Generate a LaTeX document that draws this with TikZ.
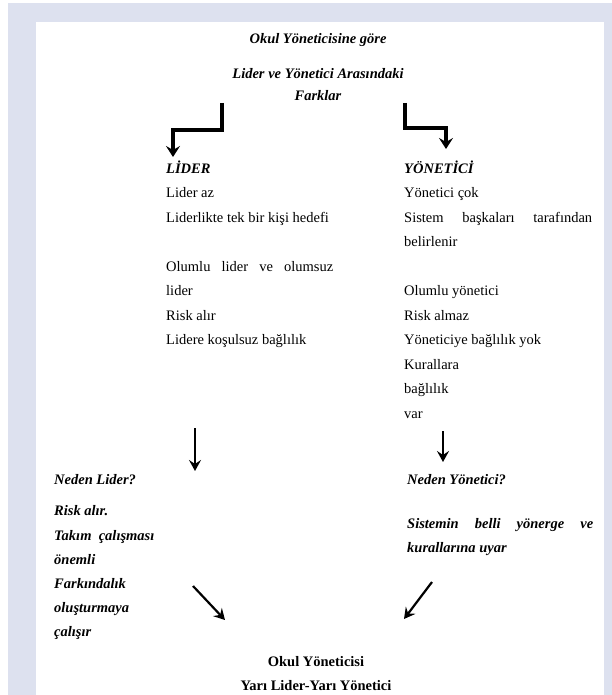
\documentclass[tikz,border=0pt]{standalone}
\usepackage{fontspec}
\setmainfont{Liberation Serif}
\usetikzlibrary{arrows.meta}
\definecolor{framebg}{RGB}{221,225,239}
\newcommand{\docsize}{\fontsize{14.5}{17}\selectfont}
\begin{document}
\begin{tikzpicture}[x=1pt,y=-1pt,
  txt/.style={anchor=base west, inner sep=0pt, font=\docsize},
  bi/.style={anchor=base west, inner sep=0pt, font=\docsize\bfseries\itshape},
  ctr/.style={anchor=base, inner sep=0pt, font=\docsize\bfseries},
  ctrbi/.style={anchor=base, inner sep=0pt, font=\docsize\bfseries\itshape},
  bent/.style={line width=3.2pt, -{Stealth[length=11pt,width=14pt,inset=4pt]}},
  straight/.style={line width=2.2pt, -{Stealth[length=11pt,width=12pt,inset=4pt]}}]
\useasboundingbox (0,0) rectangle (612,695);
% frame and page
\fill[white] (0,0) rectangle (612,695);
\fill[framebg] (8,3) rectangle (612,695);
\fill[white] (36,22) rectangle (604,695);

% heading
\node[ctrbi] (t1) at (318,44) {Okul Yöneticisine göre};
\node[ctrbi] (t2) at (318,79) {Lider ve Yönetici Arasındaki};
\node[ctrbi] (t3) at (318,101) {Farklar};

% leader column
\node[bi]  (lhead) at (166,173) {LİDER};
\node[txt] (l1) at (166,197.5) {Lider az};
\node[txt] (l2) at (166,222) {Liderlikte tek bir kişi hedefi};
\node[txt] (l3) at (166,271) {\makebox[167pt][s]{Olumlu lider ve olumsuz}};
\node[txt] (l4) at (166,295.5) {lider};
\node[txt] (l5) at (166,320) {Risk alır};
\node[txt] (l6) at (166,344.5) {Lidere koşulsuz bağlılık};

% manager column
\node[bi]  (rhead) at (404,173) {YÖNETİCİ};
\node[txt] (r1) at (404,197.5) {Yönetici çok};
\node[txt] (r2) at (404,222) {\makebox[188pt][s]{Sistem başkaları tarafından}};
\node[txt] (r3) at (404,246.5) {belirlenir};
\node[txt] (r4) at (404,295.5) {Olumlu yönetici};
\node[txt] (r5) at (404,320) {Risk almaz};
\node[txt] (r6) at (404,344.5) {Yöneticiye bağlılık yok};
\node[txt] (r7) at (404,369) {Kurallara};
\node[txt] (r8) at (404,393.5) {bağlılık};
\node[txt] (r9) at (404,418) {var};

% why leader
\node[bi] (nl0) at (54,484) {Neden Lider?};
\node[bi] (nl1) at (54,515) {Risk alır.};
\node[bi] (nl2) at (54,540) {Takım\ \ çalışması};
\node[bi] (nl3) at (54,564) {önemli};
\node[bi] (nl4) at (54,588) {Farkındalık};
\node[bi] (nl5) at (54,612) {oluşturmaya};
\node[bi] (nl6) at (54,636) {çalışır};

% why manager
\node[bi] (nm0) at (407,484) {Neden Yönetici?};
\node[bi] (nm1) at (407,528) {\makebox[186pt][s]{Sistemin belli yönerge ve}};
\node[bi] (nm2) at (407,552) {kurallarına uyar};

% conclusion
\node[ctr] (c1) at (316,666) {Okul Yöneticisi};
\node[ctr] (c2) at (316,690) {Yarı Lider-Yarı Yönetici};

% arrow end points
\coordinate (a1s) at (222,103);
\coordinate (a1e) at (173,157);
\coordinate (a2s) at (405,103);
\coordinate (a2e) at (446,149);
\coordinate (a3s) at (195,428);
\coordinate (a3e) at (195,471);
\coordinate (a4s) at (443,431);
\coordinate (a4e) at (443,462);
\coordinate (a5s) at (193,586);
\coordinate (a5e) at (225,620);
\coordinate (a6s) at (432,582);
\coordinate (a6e) at (404,619);

\draw[bent] (a1s) -- (a1s |- 0,130) -- (a1e |- 0,130) -- (a1e);
\draw[bent] (a2s) -- (a2s |- 0,128) -- (a2e |- 0,128) -- (a2e);
\draw[straight] (a3s) -- (a3e);
\draw[straight] (a4s) -- (a4e);
\draw[straight] (a5s) -- (a5e);
\draw[straight] (a6s) -- (a6e);
\end{tikzpicture}
\end{document}
